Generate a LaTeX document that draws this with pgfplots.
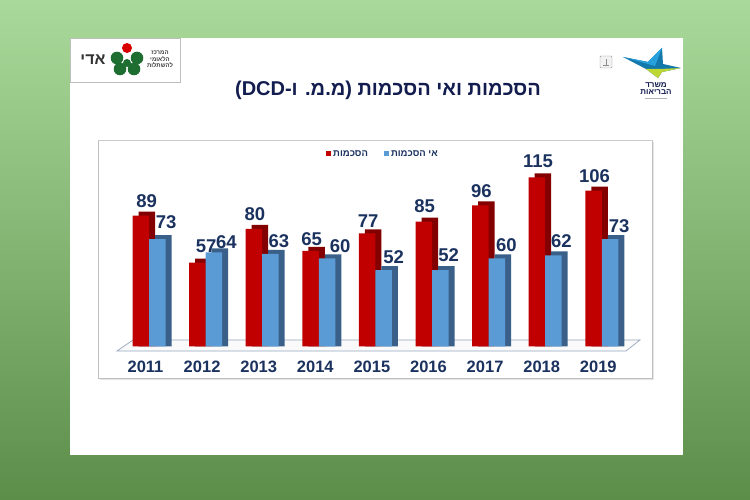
\documentclass[border=0pt]{standalone}
\usepackage{pgfplots}
\pgfplotsset{compat=1.18}
\usepackage{pgfplotstable}
\usepackage{fontspec}
\setmainfont{Liberation Sans}
\newfontfamily\hebfont[Script=Hebrew]{Liberation Sans}
\TeXXeTstate=1
\definecolor{bgtop}{RGB}{170,218,155}
\definecolor{bgbot}{RGB}{92,142,74}
\definecolor{navy}{RGB}{27,50,95}
\definecolor{titlenavy}{RGB}{18,28,78}
\definecolor{redf}{RGB}{192,0,0}
\definecolor{redd}{RGB}{130,0,0}
\definecolor{bluef}{RGB}{91,155,213}
\definecolor{blued}{RGB}{58,96,138}
\definecolor{floorline}{RGB}{150,165,190}
\definecolor{leafgreen}{RGB}{30,110,50}
\definecolor{starblue}{RGB}{40,160,220}
\definecolor{starteal}{RGB}{20,120,170}
\definecolor{starlime}{RGB}{190,215,50}

\pgfplotstableread{
x r b rx ry bx by
0 89 73 -2.25 8 17.25 10
1 57 64 0.5 10 20.75 4
2 80 63 -7.25 8 16.75 6
3 65 60 -7.25 5 21.25 5.5
4 77 52 -7.25 6 18.25 6
5 85 52 -7.25 8.5 16.75 8
6 96 60 -7.25 7 17.75 6
7 115 62 -7.25 10 16.25 7
8 106 73 -7.25 7.5 17.25 6.5
}\datatable

\begin{document}
\begin{tikzpicture}
\begin{scope}[x=1pt,y=1pt]
% background
\shade[top color=bgtop,bottom color=bgbot] (0,0) rectangle (750,500);
\fill[white] (70,45) rectangle (683,462);
% left logo
\draw[black!25,fill=white] (70.5,418) rectangle (180,461.5);
\node[font=\hebfont\bfseries\fontsize{16}{16}\selectfont,text=black!80] at (93,440) {\beginR אדי\endR};
\fill[red!85!black] (127,452) circle (5);
\fill[leafgreen] (117,442) circle (6.3);
\fill[leafgreen] (137,442) circle (6.3);
\fill[leafgreen] (120,431) circle (6.3);
\fill[leafgreen] (134,431) circle (6.3);
\fill[leafgreen] (127,437) circle (4);
\node[font=\hebfont\bfseries\fontsize{6}{6}\selectfont,text=black!75] at (160,447) {\beginR המרכז\endR};
\node[font=\hebfont\bfseries\fontsize{6}{6}\selectfont,text=black!75] at (160,441) {\beginR הלאומי\endR};
\node[font=\hebfont\bfseries\fontsize{6}{6}\selectfont,text=black!75] at (160,435) {\beginR להשתלות\endR};
% right logo
\draw[black!40,fill=black!5,rounded corners=1pt] (600,432) rectangle (612,444);
\draw[black!45] (603,435) -- (609,435) (606,435) -- (606,441);
\fill[starteal] (623,443) -- (648,438) -- (662,452) -- (663,436) -- (681,432) -- (662,428) -- (658,422) -- (646,431) -- cycle;
\fill[starblue] (623,443) -- (648,438) -- (662,452) -- (655,434) -- cycle;
\fill[starlime] (646,431) -- (658,422) -- (662,428) -- (681,432) -- (660,431) -- cycle;
\node[font=\hebfont\bfseries\fontsize{8}{8}\selectfont,text=titlenavy] at (656,415) {\beginR משרד\endR};
\node[font=\hebfont\bfseries\fontsize{8}{8}\selectfont,text=titlenavy] at (656,407.5) {\beginR הבריאות\endR};
\draw[black!30] (645,402) -- (667,402);
% title
\node[font=\hebfont\bfseries\fontsize{20}{20}\selectfont,text=titlenavy] at (388,410)
  {\beginR הסכמות ואי הסכמות (מ.מ. ו-DCD)\endR};
% chart frame
\fill[black!10] (100,120) rectangle (654,358);
\draw[black!25,fill=white] (98,122) rectangle (652,360);
\draw[black!20,line width=1.5pt] (98,359.3) -- (652,359.3);
% floor
\draw[fill=black!2,draw=floorline,line width=0.7pt] (133,160) -- (640,160) -- (626,149) -- (117,149) -- cycle;
\end{scope}
\begin{axis}[
  at={(115.04pt,153.5pt)}, anchor=south west,
  scale only axis, width=520.72pt, height=183.75pt,
  xmin=-0.6, xmax=8.6, ymin=0, ymax=125,
  clip=false,
  axis line style={draw=none},
  tick style={draw=none},
  ytick=\empty,
  xtick={0,1,2,3,4,5,6,7,8},
  xticklabels={2011,2012,2013,2014,2015,2016,2017,2018,2019},
  xticklabel style={font=\bfseries\fontsize{16.5}{16.5}\selectfont,text=navy,inner sep=0pt,yshift=-14.5pt,xshift=-3.5pt},
  /pgf/number format/assume math mode=true,
  legend columns=2,
  legend style={at={(0.5146,1.0476)},anchor=center,draw=none,fill=none,
    font=\hebfont\bfseries\fontsize{9.5}{9.5}\selectfont,text=navy,
    /tikz/every even column/.append style={column sep=14pt},
    inner sep=0pt},
]
\addplot[ybar,bar width=16.5pt,bar shift=-2.25pt,fill=redd,draw=none,forget plot]
  table[x=x,y expr=\thisrow{r}+2.7]{\datatable};
\addplot[ybar,bar width=16.5pt,bar shift=-8.25pt,fill=redf,draw=none,
  legend image code/.code={\fill[redf] (0pt,-2.5pt) rectangle (5pt,2.5pt);}]
  table[x=x,y=r]{\datatable};
\addlegendentry{\beginR הסכמות\endR}
\addplot[ybar,bar width=16.5pt,bar shift=14.25pt,fill=blued,draw=none,forget plot]
  table[x=x,y expr=\thisrow{b}+2.7]{\datatable};
\addplot[ybar,bar width=16.5pt,bar shift=8.25pt,fill=bluef,draw=none,
  legend image code/.code={\fill[bluef] (0pt,-2.5pt) rectangle (5pt,2.5pt);}]
  table[x=x,y=b]{\datatable};
\addlegendentry{\beginR אי הסכמות\endR}
% labels
\addplot[draw=none,forget plot,nodes near coords,
  visualization depends on={\thisrow{rx}\as\lx},
  visualization depends on={\thisrow{ry}\as\ly},
  every node near coord/.append style={font=\bfseries\fontsize{18.5}{18.5}\selectfont,text=navy,
    anchor=south,inner sep=0pt,xshift=\lx pt,yshift=\ly pt}]
  table[x=x,y=r]{\datatable};
\addplot[draw=none,forget plot,nodes near coords,
  visualization depends on={\thisrow{bx}\as\lx},
  visualization depends on={\thisrow{by}\as\ly},
  every node near coord/.append style={font=\bfseries\fontsize{18.5}{18.5}\selectfont,text=navy,
    anchor=south,inner sep=0pt,xshift=\lx pt,yshift=\ly pt}]
  table[x=x,y=b]{\datatable};
\end{axis}
\end{tikzpicture}
\end{document}
